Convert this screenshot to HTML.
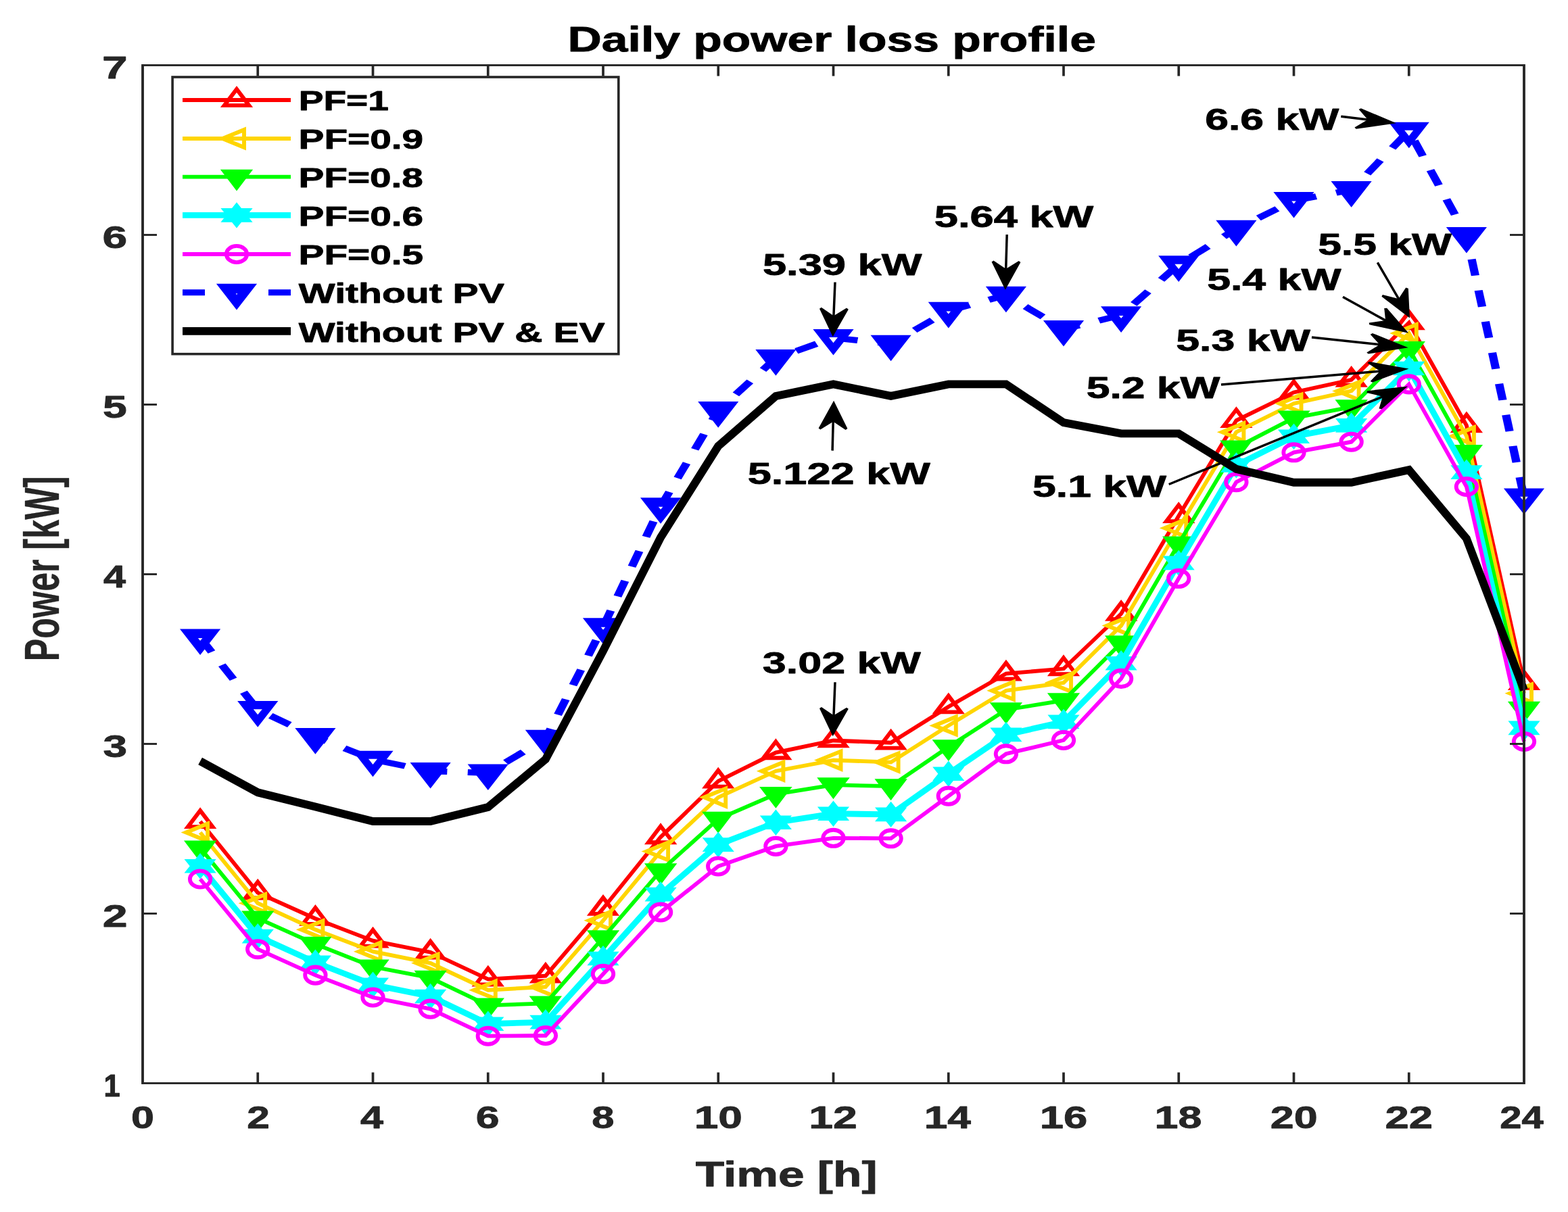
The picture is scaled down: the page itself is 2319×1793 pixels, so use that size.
<!DOCTYPE html>
<html lang="en"><head><meta charset="utf-8"><title>Daily power loss profile</title>
<style>html,body{margin:0;padding:0;background:#fff;}svg{display:block;}text{font-family:"Liberation Sans",Arial,Helvetica,sans-serif;font-weight:bold;stroke-linejoin:round;vector-effect:non-scaling-stroke;}</style>
</head><body>
<svg width="2319" height="1793" viewBox="0 0 2319 1793">
<rect x="0" y="0" width="2319" height="1793" fill="#ffffff"/>
<g id="s-red">
<polyline points="296.1,1215.2 381.2,1320.6 466.4,1359.0 551.5,1391.7 636.6,1408.7 721.8,1448.6 806.9,1443.6 892.0,1344.0 977.1,1238.3 1062.2,1155.7 1147.4,1113.3 1232.5,1095.5 1317.6,1098.7 1402.8,1045.5 1487.9,996.6 1573.0,989.3 1658.1,908.0 1743.2,763.2 1828.4,622.1 1913.5,580.4 1998.6,561.9 2083.8,477.5 2168.9,629.4 2254.0,1010.1" fill="none" stroke="#ff0000" stroke-width="5.8" stroke-linejoin="miter"/>
<polygon points="296.1,1199.1 314.4,1223.1 277.9,1223.1" fill="none" stroke="#ff0000" stroke-width="5.9"/>
<polygon points="381.2,1304.5 399.5,1328.5 363.0,1328.5" fill="none" stroke="#ff0000" stroke-width="5.9"/>
<polygon points="466.4,1342.9 484.6,1366.9 448.1,1366.9" fill="none" stroke="#ff0000" stroke-width="5.9"/>
<polygon points="551.5,1375.6 569.8,1399.6 533.2,1399.6" fill="none" stroke="#ff0000" stroke-width="5.9"/>
<polygon points="636.6,1392.6 654.9,1416.6 618.4,1416.6" fill="none" stroke="#ff0000" stroke-width="5.9"/>
<polygon points="721.8,1432.5 740.0,1456.5 703.5,1456.5" fill="none" stroke="#ff0000" stroke-width="5.9"/>
<polygon points="806.9,1427.5 825.1,1451.5 788.6,1451.5" fill="none" stroke="#ff0000" stroke-width="5.9"/>
<polygon points="892.0,1327.9 910.2,1351.9 873.8,1351.9" fill="none" stroke="#ff0000" stroke-width="5.9"/>
<polygon points="977.1,1222.2 995.4,1246.2 958.9,1246.2" fill="none" stroke="#ff0000" stroke-width="5.9"/>
<polygon points="1062.2,1139.6 1080.5,1163.6 1044.0,1163.6" fill="none" stroke="#ff0000" stroke-width="5.9"/>
<polygon points="1147.4,1097.2 1165.6,1121.2 1129.1,1121.2" fill="none" stroke="#ff0000" stroke-width="5.9"/>
<polygon points="1232.5,1079.4 1250.8,1103.4 1214.2,1103.4" fill="none" stroke="#ff0000" stroke-width="5.9"/>
<polygon points="1317.6,1082.6 1335.9,1106.6 1299.4,1106.6" fill="none" stroke="#ff0000" stroke-width="5.9"/>
<polygon points="1402.8,1029.4 1421.0,1053.4 1384.5,1053.4" fill="none" stroke="#ff0000" stroke-width="5.9"/>
<polygon points="1487.9,980.5 1506.1,1004.5 1469.6,1004.5" fill="none" stroke="#ff0000" stroke-width="5.9"/>
<polygon points="1573.0,973.2 1591.2,997.2 1554.8,997.2" fill="none" stroke="#ff0000" stroke-width="5.9"/>
<polygon points="1658.1,891.9 1676.4,915.9 1639.9,915.9" fill="none" stroke="#ff0000" stroke-width="5.9"/>
<polygon points="1743.2,747.1 1761.5,771.1 1725.0,771.1" fill="none" stroke="#ff0000" stroke-width="5.9"/>
<polygon points="1828.4,606.0 1846.6,630.0 1810.1,630.0" fill="none" stroke="#ff0000" stroke-width="5.9"/>
<polygon points="1913.5,564.3 1931.8,588.3 1895.2,588.3" fill="none" stroke="#ff0000" stroke-width="5.9"/>
<polygon points="1998.6,545.8 2016.9,569.8 1980.4,569.8" fill="none" stroke="#ff0000" stroke-width="5.9"/>
<polygon points="2083.8,461.4 2102.0,485.4 2065.5,485.4" fill="none" stroke="#ff0000" stroke-width="5.9"/>
<polygon points="2168.9,613.3 2187.1,637.3 2150.6,637.3" fill="none" stroke="#ff0000" stroke-width="5.9"/>
<polygon points="2254.0,994.0 2272.2,1018.0 2235.8,1018.0" fill="none" stroke="#ff0000" stroke-width="5.9"/>
</g>
<g id="s-yellow">
<polyline points="296.1,1231.5 381.2,1336.2 466.4,1375.3 551.5,1407.7 636.6,1424.8 721.8,1464.7 806.9,1459.9 892.0,1361.8 977.1,1259.4 1062.2,1179.6 1147.4,1140.7 1232.5,1124.6 1317.6,1127.6 1402.8,1073.4 1487.9,1021.7 1573.0,1010.1 1658.1,925.6 1743.2,781.2 1828.4,639.2 1913.5,597.0 1998.6,578.4 2083.8,493.1 2168.9,645.2 2254.0,1025.7" fill="none" stroke="#ffd500" stroke-width="5.8" stroke-linejoin="miter"/>
<polygon points="275.3,1231.5 307.1,1218.5 307.1,1244.5" fill="none" stroke="#ffd500" stroke-width="5.9"/>
<polygon points="360.4,1336.2 392.2,1323.2 392.2,1349.2" fill="none" stroke="#ffd500" stroke-width="5.9"/>
<polygon points="445.6,1375.3 477.4,1362.3 477.4,1388.3" fill="none" stroke="#ffd500" stroke-width="5.9"/>
<polygon points="530.7,1407.7 562.5,1394.7 562.5,1420.7" fill="none" stroke="#ffd500" stroke-width="5.9"/>
<polygon points="615.8,1424.8 647.6,1411.8 647.6,1437.8" fill="none" stroke="#ffd500" stroke-width="5.9"/>
<polygon points="701.0,1464.7 732.8,1451.7 732.8,1477.7" fill="none" stroke="#ffd500" stroke-width="5.9"/>
<polygon points="786.1,1459.9 817.9,1446.9 817.9,1472.9" fill="none" stroke="#ffd500" stroke-width="5.9"/>
<polygon points="871.2,1361.8 903.0,1348.8 903.0,1374.8" fill="none" stroke="#ffd500" stroke-width="5.9"/>
<polygon points="956.3,1259.4 988.1,1246.4 988.1,1272.4" fill="none" stroke="#ffd500" stroke-width="5.9"/>
<polygon points="1041.5,1179.6 1073.2,1166.6 1073.2,1192.6" fill="none" stroke="#ffd500" stroke-width="5.9"/>
<polygon points="1126.6,1140.7 1158.4,1127.7 1158.4,1153.7" fill="none" stroke="#ffd500" stroke-width="5.9"/>
<polygon points="1211.7,1124.6 1243.5,1111.6 1243.5,1137.6" fill="none" stroke="#ffd500" stroke-width="5.9"/>
<polygon points="1296.8,1127.6 1328.6,1114.6 1328.6,1140.6" fill="none" stroke="#ffd500" stroke-width="5.9"/>
<polygon points="1382.0,1073.4 1413.8,1060.4 1413.8,1086.4" fill="none" stroke="#ffd500" stroke-width="5.9"/>
<polygon points="1467.1,1021.7 1498.9,1008.7 1498.9,1034.7" fill="none" stroke="#ffd500" stroke-width="5.9"/>
<polygon points="1552.2,1010.1 1584.0,997.1 1584.0,1023.1" fill="none" stroke="#ffd500" stroke-width="5.9"/>
<polygon points="1637.3,925.6 1669.1,912.6 1669.1,938.6" fill="none" stroke="#ffd500" stroke-width="5.9"/>
<polygon points="1722.5,781.2 1754.2,768.2 1754.2,794.2" fill="none" stroke="#ffd500" stroke-width="5.9"/>
<polygon points="1807.6,639.2 1839.4,626.2 1839.4,652.2" fill="none" stroke="#ffd500" stroke-width="5.9"/>
<polygon points="1892.7,597.0 1924.5,584.0 1924.5,610.0" fill="none" stroke="#ffd500" stroke-width="5.9"/>
<polygon points="1977.8,578.4 2009.6,565.4 2009.6,591.4" fill="none" stroke="#ffd500" stroke-width="5.9"/>
<polygon points="2062.9,493.1 2094.8,480.1 2094.8,506.1" fill="none" stroke="#ffd500" stroke-width="5.9"/>
<polygon points="2148.1,645.2 2179.9,632.2 2179.9,658.2" fill="none" stroke="#ffd500" stroke-width="5.9"/>
<polygon points="2233.2,1025.7 2265.0,1012.7 2265.0,1038.7" fill="none" stroke="#ffd500" stroke-width="5.9"/>
</g>
<g id="s-green">
<polyline points="296.1,1254.4 381.2,1358.3 466.4,1396.7 551.5,1430.3 636.6,1446.6 721.8,1487.3 806.9,1484.3 892.0,1387.1 977.1,1288.2 1062.2,1211.7 1147.4,1174.8 1232.5,1161.2 1317.6,1163.2 1402.8,1105.0 1487.9,1050.0 1573.0,1036.2 1658.1,951.2 1743.2,804.3 1828.4,662.3 1913.5,618.3 1998.6,602.0 2083.8,515.9 2168.9,668.8 2254.0,1048.5" fill="none" stroke="#00ff00" stroke-width="5.8" stroke-linejoin="miter"/>
<polygon points="296.1,1270.5 314.4,1246.5 277.9,1246.5" fill="#00ff00" stroke="#00ff00" stroke-width="5.9"/>
<polygon points="381.2,1374.4 399.5,1350.4 363.0,1350.4" fill="#00ff00" stroke="#00ff00" stroke-width="5.9"/>
<polygon points="466.4,1412.8 484.6,1388.8 448.1,1388.8" fill="#00ff00" stroke="#00ff00" stroke-width="5.9"/>
<polygon points="551.5,1446.4 569.8,1422.4 533.2,1422.4" fill="#00ff00" stroke="#00ff00" stroke-width="5.9"/>
<polygon points="636.6,1462.7 654.9,1438.7 618.4,1438.7" fill="#00ff00" stroke="#00ff00" stroke-width="5.9"/>
<polygon points="721.8,1503.4 740.0,1479.4 703.5,1479.4" fill="#00ff00" stroke="#00ff00" stroke-width="5.9"/>
<polygon points="806.9,1500.4 825.1,1476.4 788.6,1476.4" fill="#00ff00" stroke="#00ff00" stroke-width="5.9"/>
<polygon points="892.0,1403.2 910.2,1379.2 873.8,1379.2" fill="#00ff00" stroke="#00ff00" stroke-width="5.9"/>
<polygon points="977.1,1304.3 995.4,1280.3 958.9,1280.3" fill="#00ff00" stroke="#00ff00" stroke-width="5.9"/>
<polygon points="1062.2,1227.8 1080.5,1203.8 1044.0,1203.8" fill="#00ff00" stroke="#00ff00" stroke-width="5.9"/>
<polygon points="1147.4,1190.9 1165.6,1166.9 1129.1,1166.9" fill="#00ff00" stroke="#00ff00" stroke-width="5.9"/>
<polygon points="1232.5,1177.3 1250.8,1153.3 1214.2,1153.3" fill="#00ff00" stroke="#00ff00" stroke-width="5.9"/>
<polygon points="1317.6,1179.3 1335.9,1155.3 1299.4,1155.3" fill="#00ff00" stroke="#00ff00" stroke-width="5.9"/>
<polygon points="1402.8,1121.1 1421.0,1097.1 1384.5,1097.1" fill="#00ff00" stroke="#00ff00" stroke-width="5.9"/>
<polygon points="1487.9,1066.1 1506.1,1042.1 1469.6,1042.1" fill="#00ff00" stroke="#00ff00" stroke-width="5.9"/>
<polygon points="1573.0,1052.3 1591.2,1028.3 1554.8,1028.3" fill="#00ff00" stroke="#00ff00" stroke-width="5.9"/>
<polygon points="1658.1,967.3 1676.4,943.3 1639.9,943.3" fill="#00ff00" stroke="#00ff00" stroke-width="5.9"/>
<polygon points="1743.2,820.4 1761.5,796.4 1725.0,796.4" fill="#00ff00" stroke="#00ff00" stroke-width="5.9"/>
<polygon points="1828.4,678.4 1846.6,654.4 1810.1,654.4" fill="#00ff00" stroke="#00ff00" stroke-width="5.9"/>
<polygon points="1913.5,634.4 1931.8,610.4 1895.2,610.4" fill="#00ff00" stroke="#00ff00" stroke-width="5.9"/>
<polygon points="1998.6,618.1 2016.9,594.1 1980.4,594.1" fill="#00ff00" stroke="#00ff00" stroke-width="5.9"/>
<polygon points="2083.8,532.0 2102.0,508.0 2065.5,508.0" fill="#00ff00" stroke="#00ff00" stroke-width="5.9"/>
<polygon points="2168.9,684.9 2187.1,660.9 2150.6,660.9" fill="#00ff00" stroke="#00ff00" stroke-width="5.9"/>
<polygon points="2254.0,1064.6 2272.2,1040.6 2235.8,1040.6" fill="#00ff00" stroke="#00ff00" stroke-width="5.9"/>
</g>
<g id="s-cyan">
<polyline points="296.1,1281.2 381.2,1385.1 466.4,1423.8 551.5,1456.7 636.6,1474.0 721.8,1514.7 806.9,1512.1 892.0,1418.0 977.1,1323.1 1062.2,1249.6 1147.4,1216.7 1232.5,1203.7 1317.6,1204.9 1402.8,1144.7 1487.9,1086.9 1573.0,1067.9 1658.1,981.3 1743.2,832.9 1828.4,688.4 1913.5,645.7 1998.6,629.4 2083.8,545.0 2168.9,698.6 2254.0,1076.9" fill="none" stroke="#00ffff" stroke-width="8.8" stroke-linejoin="miter"/>
<polygon points="296.1,1262.0 319.7,1291.5 272.5,1291.5" fill="#00ffff"/><polygon points="296.1,1300.4 319.7,1270.9 272.5,1270.9" fill="#00ffff"/>
<polygon points="381.2,1365.9 404.9,1395.4 357.6,1395.4" fill="#00ffff"/><polygon points="381.2,1404.3 404.9,1374.8 357.6,1374.8" fill="#00ffff"/>
<polygon points="466.4,1404.6 490.0,1434.1 442.8,1434.1" fill="#00ffff"/><polygon points="466.4,1443.0 490.0,1413.5 442.8,1413.5" fill="#00ffff"/>
<polygon points="551.5,1437.5 575.1,1467.0 527.9,1467.0" fill="#00ffff"/><polygon points="551.5,1475.9 575.1,1446.4 527.9,1446.4" fill="#00ffff"/>
<polygon points="636.6,1454.8 660.2,1484.3 613.0,1484.3" fill="#00ffff"/><polygon points="636.6,1493.2 660.2,1463.7 613.0,1463.7" fill="#00ffff"/>
<polygon points="721.8,1495.5 745.4,1525.0 698.1,1525.0" fill="#00ffff"/><polygon points="721.8,1533.9 745.4,1504.4 698.1,1504.4" fill="#00ffff"/>
<polygon points="806.9,1492.9 830.5,1522.4 783.3,1522.4" fill="#00ffff"/><polygon points="806.9,1531.3 830.5,1501.8 783.3,1501.8" fill="#00ffff"/>
<polygon points="892.0,1398.8 915.6,1428.3 868.4,1428.3" fill="#00ffff"/><polygon points="892.0,1437.2 915.6,1407.7 868.4,1407.7" fill="#00ffff"/>
<polygon points="977.1,1303.9 1000.7,1333.4 953.5,1333.4" fill="#00ffff"/><polygon points="977.1,1342.3 1000.7,1312.8 953.5,1312.8" fill="#00ffff"/>
<polygon points="1062.2,1230.4 1085.8,1259.9 1038.7,1259.9" fill="#00ffff"/><polygon points="1062.2,1268.8 1085.8,1239.3 1038.7,1239.3" fill="#00ffff"/>
<polygon points="1147.4,1197.5 1171.0,1227.0 1123.8,1227.0" fill="#00ffff"/><polygon points="1147.4,1235.9 1171.0,1206.4 1123.8,1206.4" fill="#00ffff"/>
<polygon points="1232.5,1184.5 1256.1,1214.0 1208.9,1214.0" fill="#00ffff"/><polygon points="1232.5,1222.9 1256.1,1193.4 1208.9,1193.4" fill="#00ffff"/>
<polygon points="1317.6,1185.7 1341.2,1215.2 1294.0,1215.2" fill="#00ffff"/><polygon points="1317.6,1224.1 1341.2,1194.6 1294.0,1194.6" fill="#00ffff"/>
<polygon points="1402.8,1125.5 1426.3,1155.0 1379.2,1155.0" fill="#00ffff"/><polygon points="1402.8,1163.9 1426.3,1134.4 1379.2,1134.4" fill="#00ffff"/>
<polygon points="1487.9,1067.7 1511.5,1097.2 1464.3,1097.2" fill="#00ffff"/><polygon points="1487.9,1106.1 1511.5,1076.6 1464.3,1076.6" fill="#00ffff"/>
<polygon points="1573.0,1048.7 1596.6,1078.2 1549.4,1078.2" fill="#00ffff"/><polygon points="1573.0,1087.1 1596.6,1057.6 1549.4,1057.6" fill="#00ffff"/>
<polygon points="1658.1,962.1 1681.7,991.6 1634.5,991.6" fill="#00ffff"/><polygon points="1658.1,1000.5 1681.7,971.0 1634.5,971.0" fill="#00ffff"/>
<polygon points="1743.2,813.7 1766.8,843.2 1719.7,843.2" fill="#00ffff"/><polygon points="1743.2,852.1 1766.8,822.6 1719.7,822.6" fill="#00ffff"/>
<polygon points="1828.4,669.2 1852.0,698.7 1804.8,698.7" fill="#00ffff"/><polygon points="1828.4,707.6 1852.0,678.1 1804.8,678.1" fill="#00ffff"/>
<polygon points="1913.5,626.5 1937.1,656.0 1889.9,656.0" fill="#00ffff"/><polygon points="1913.5,664.9 1937.1,635.4 1889.9,635.4" fill="#00ffff"/>
<polygon points="1998.6,610.2 2022.2,639.7 1975.0,639.7" fill="#00ffff"/><polygon points="1998.6,648.6 2022.2,619.1 1975.0,619.1" fill="#00ffff"/>
<polygon points="2083.8,525.8 2107.3,555.3 2060.2,555.3" fill="#00ffff"/><polygon points="2083.8,564.2 2107.3,534.7 2060.2,534.7" fill="#00ffff"/>
<polygon points="2168.9,679.4 2192.5,708.9 2145.3,708.9" fill="#00ffff"/><polygon points="2168.9,717.8 2192.5,688.3 2145.3,688.3" fill="#00ffff"/>
<polygon points="2254.0,1057.7 2277.6,1087.2 2230.4,1087.2" fill="#00ffff"/><polygon points="2254.0,1096.1 2277.6,1066.6 2230.4,1066.6" fill="#00ffff"/>
</g>
<g id="s-magenta">
<polyline points="296.1,1300.5 381.2,1404.2 466.4,1442.6 551.5,1475.5 636.6,1492.6 721.8,1532.7 806.9,1532.0 892.0,1440.9 977.1,1349.5 1062.2,1281.5 1147.4,1251.9 1232.5,1239.8 1317.6,1240.3 1402.8,1177.6 1487.9,1115.3 1573.0,1095.0 1658.1,1003.9 1743.2,855.8 1828.4,713.2 1913.5,669.3 1998.6,653.7 2083.8,568.4 2168.9,720.0 2254.0,1097.0" fill="none" stroke="#ff00ff" stroke-width="5.8" stroke-linejoin="miter"/>
<ellipse cx="296.1" cy="1300.5" rx="15.2" ry="12.1" fill="none" stroke="#ff00ff" stroke-width="5.9"/>
<ellipse cx="381.2" cy="1404.2" rx="15.2" ry="12.1" fill="none" stroke="#ff00ff" stroke-width="5.9"/>
<ellipse cx="466.4" cy="1442.6" rx="15.2" ry="12.1" fill="none" stroke="#ff00ff" stroke-width="5.9"/>
<ellipse cx="551.5" cy="1475.5" rx="15.2" ry="12.1" fill="none" stroke="#ff00ff" stroke-width="5.9"/>
<ellipse cx="636.6" cy="1492.6" rx="15.2" ry="12.1" fill="none" stroke="#ff00ff" stroke-width="5.9"/>
<ellipse cx="721.8" cy="1532.7" rx="15.2" ry="12.1" fill="none" stroke="#ff00ff" stroke-width="5.9"/>
<ellipse cx="806.9" cy="1532.0" rx="15.2" ry="12.1" fill="none" stroke="#ff00ff" stroke-width="5.9"/>
<ellipse cx="892.0" cy="1440.9" rx="15.2" ry="12.1" fill="none" stroke="#ff00ff" stroke-width="5.9"/>
<ellipse cx="977.1" cy="1349.5" rx="15.2" ry="12.1" fill="none" stroke="#ff00ff" stroke-width="5.9"/>
<ellipse cx="1062.2" cy="1281.5" rx="15.2" ry="12.1" fill="none" stroke="#ff00ff" stroke-width="5.9"/>
<ellipse cx="1147.4" cy="1251.9" rx="15.2" ry="12.1" fill="none" stroke="#ff00ff" stroke-width="5.9"/>
<ellipse cx="1232.5" cy="1239.8" rx="15.2" ry="12.1" fill="none" stroke="#ff00ff" stroke-width="5.9"/>
<ellipse cx="1317.6" cy="1240.3" rx="15.2" ry="12.1" fill="none" stroke="#ff00ff" stroke-width="5.9"/>
<ellipse cx="1402.8" cy="1177.6" rx="15.2" ry="12.1" fill="none" stroke="#ff00ff" stroke-width="5.9"/>
<ellipse cx="1487.9" cy="1115.3" rx="15.2" ry="12.1" fill="none" stroke="#ff00ff" stroke-width="5.9"/>
<ellipse cx="1573.0" cy="1095.0" rx="15.2" ry="12.1" fill="none" stroke="#ff00ff" stroke-width="5.9"/>
<ellipse cx="1658.1" cy="1003.9" rx="15.2" ry="12.1" fill="none" stroke="#ff00ff" stroke-width="5.9"/>
<ellipse cx="1743.2" cy="855.8" rx="15.2" ry="12.1" fill="none" stroke="#ff00ff" stroke-width="5.9"/>
<ellipse cx="1828.4" cy="713.2" rx="15.2" ry="12.1" fill="none" stroke="#ff00ff" stroke-width="5.9"/>
<ellipse cx="1913.5" cy="669.3" rx="15.2" ry="12.1" fill="none" stroke="#ff00ff" stroke-width="5.9"/>
<ellipse cx="1998.6" cy="653.7" rx="15.2" ry="12.1" fill="none" stroke="#ff00ff" stroke-width="5.9"/>
<ellipse cx="2083.8" cy="568.4" rx="15.2" ry="12.1" fill="none" stroke="#ff00ff" stroke-width="5.9"/>
<ellipse cx="2168.9" cy="720.0" rx="15.2" ry="12.1" fill="none" stroke="#ff00ff" stroke-width="5.9"/>
<ellipse cx="2254.0" cy="1097.0" rx="15.2" ry="12.1" fill="none" stroke="#ff00ff" stroke-width="5.9"/>
</g>
<g id="s-blue">
<path d="M290.8 945.6 L307.6 966.7 L318.3 962.2 L301.4 941.1Z M323.0 985.9 L339.8 1007.0 L350.4 1002.5 L333.6 981.4Z M355.1 1026.2 L371.9 1047.3 L382.6 1042.8 L365.7 1021.7Z M396.9 1062.7 L425.0 1075.9 L431.6 1068.3 L403.5 1055.1Z M450.6 1087.9 L463.1 1093.7 L469.7 1086.2 L457.2 1080.3Z M463.5 1093.9 L479.8 1100.4 L485.6 1092.4 L469.3 1086.0Z M506.5 1110.9 L535.9 1122.5 L541.7 1114.6 L512.4 1103.0Z M565.3 1131.1 L597.4 1137.6 L600.7 1128.9 L568.6 1122.4Z M626.7 1143.6 L635.0 1145.2 L638.3 1136.6 L630.0 1134.9Z M636.4 1145.4 L661.1 1146.1 L661.6 1137.1 L636.9 1136.4Z M691.5 1147.0 L721.5 1147.9 L722.0 1138.9 L692.0 1138.0Z M725.6 1146.9 L728.2 1145.4 L720.5 1138.4 L717.9 1139.9Z M751.8 1131.3 L777.7 1115.9 L769.9 1108.9 L744.1 1124.3Z M801.3 1101.8 L810.8 1096.2 L803.0 1089.2 L793.5 1094.9Z M812.6 1094.3 L820.1 1079.8 L808.6 1076.6 L801.1 1091.1Z M830.8 1059.0 L842.5 1036.1 L831.0 1033.0 L819.3 1055.8Z M853.2 1015.3 L865.0 992.5 L853.5 989.3 L841.7 1012.1Z M875.7 971.6 L887.4 948.8 L875.9 945.6 L864.2 968.5Z M898.1 927.8 L909.2 904.8 L897.5 901.8 L886.5 924.9Z M919.2 883.8 L930.2 860.8 L918.6 857.8 L907.6 880.8Z M940.3 839.8 L951.3 816.7 L939.7 813.8 L928.7 836.8Z M961.3 795.7 L972.4 772.7 L960.7 769.7 L949.7 792.7Z M982.4 751.7 L982.9 750.6 L971.3 747.6 L970.8 748.7Z M982.8 750.9 L995.5 729.6 L984.2 726.0 L971.5 747.3Z M1007.7 709.2 L1021.1 686.9 L1009.9 683.3 L996.5 705.6Z M1033.3 666.5 L1046.7 644.1 L1035.5 640.5 L1022.1 662.9Z M1058.9 623.8 L1067.9 608.8 L1056.6 605.2 L1047.7 620.1Z M1067.0 609.9 L1074.0 603.6 L1064.4 597.9 L1057.5 604.2Z M1093.1 586.2 L1114.1 567.3 L1104.5 561.6 L1083.6 580.6Z M1133.2 549.9 L1152.2 532.8 L1142.6 527.1 L1123.7 544.3Z M1150.1 534.0 L1153.0 533.0 L1147.6 524.9 L1144.7 525.9Z M1180.4 523.3 L1210.4 512.7 L1205.0 504.6 L1175.0 515.2Z M1234.5 504.6 L1267.5 508.0 L1269.2 499.1 L1236.2 495.7Z M1297.7 511.1 L1316.8 513.1 L1318.5 504.2 L1299.4 502.2Z M1321.4 512.2 L1332.5 505.8 L1324.9 498.8 L1313.8 505.1Z M1356.4 492.1 L1382.6 477.0 L1375.0 469.9 L1348.8 485.0Z M1406.5 463.2 L1406.6 463.2 L1398.9 456.2 L1398.9 456.2Z M1404.9 463.9 L1436.2 455.4 L1431.9 447.0 L1400.6 455.5Z M1464.7 447.7 L1490.0 440.8 L1485.7 432.4 L1460.4 439.3Z M1484.0 440.1 L1489.0 443.0 L1496.7 436.0 L1491.7 433.1Z M1512.6 457.0 L1538.6 472.3 L1546.3 465.3 L1520.4 450.0Z M1562.3 486.3 L1569.1 490.3 L1576.9 483.3 L1570.0 479.3Z M1574.9 491.1 L1598.3 485.4 L1594.4 476.9 L1571.1 482.5Z M1627.2 478.5 L1658.8 470.8 L1655.0 462.2 L1623.3 469.9Z M1681.5 452.7 L1702.8 433.9 L1693.3 428.2 L1672.0 447.0Z M1722.2 416.8 L1743.5 398.0 L1734.0 392.3 L1712.7 411.0Z M1765.1 383.6 L1790.6 367.9 L1782.7 361.0 L1757.2 376.7Z M1813.9 353.5 L1832.3 342.2 L1824.4 335.3 L1806.0 346.6Z M1831.8 342.4 L1839.5 338.7 L1832.6 331.2 L1824.9 335.0Z M1864.7 326.3 L1892.4 312.6 L1885.5 305.2 L1857.8 318.8Z M1915.8 301.0 L1948.1 295.0 L1945.1 286.3 L1912.8 292.3Z M1977.6 289.5 L2000.1 285.3 L1997.1 276.6 L1974.6 280.8Z M2003.6 283.6 L2009.5 277.6 L1999.5 272.3 L1993.6 278.4Z M2027.2 259.4 L2046.5 239.6 L2036.5 234.3 L2017.2 254.2Z M2064.2 221.4 L2083.6 201.6 L2073.6 196.3 L2054.2 216.2Z M2086.0 209.9 L2098.5 232.5 L2109.9 229.2 L2097.5 206.5Z M2109.8 253.2 L2122.2 275.8 L2133.7 272.5 L2121.2 249.9Z M2133.6 296.5 L2146.0 319.1 L2157.4 315.8 L2145.0 293.2Z M2157.3 339.8 L2163.2 350.4 L2174.6 347.1 L2168.8 336.5Z M2162.8 349.5 L2165.6 362.3 L2177.8 360.8 L2174.9 348.0Z M2170.5 384.2 L2175.8 408.3 L2187.9 406.9 L2182.6 382.8Z M2180.6 430.3 L2185.9 454.4 L2198.1 453.0 L2192.7 428.9Z M2190.7 476.4 L2196.1 500.5 L2208.2 499.0 L2202.9 474.9Z M2200.9 522.4 L2206.2 546.5 L2218.3 545.1 L2213.0 521.0Z M2211.0 568.5 L2216.3 592.6 L2228.5 591.2 L2223.2 567.1Z M2221.2 614.6 L2226.5 638.7 L2238.6 637.2 L2233.3 613.1Z M2231.3 660.6 L2236.6 684.7 L2248.8 683.3 L2243.5 659.2Z M2241.5 706.7 L2246.8 730.8 L2258.9 729.4 L2253.6 705.3Z" fill="#0000ff"/>
<polygon points="296.1,969.1 326.2,930.5 266.0,930.5" fill="#0000ff"/><polygon points="292.9,944.1 299.4,944.1 296.1,948.1" fill="#fff"/>
<polygon points="381.2,1075.7 411.4,1037.1 351.1,1037.1" fill="#0000ff"/><polygon points="374.8,1049.2 387.8,1049.2 381.2,1057.3" fill="#fff"/>
<polygon points="466.4,1115.7 496.5,1077.1 436.3,1077.1" fill="#0000ff"/>
<polygon points="551.5,1149.3 581.6,1110.7 521.4,1110.7" fill="#0000ff"/><polygon points="545.0,1122.8 558.0,1122.8 551.5,1130.9" fill="#fff"/>
<polygon points="636.6,1166.6 666.7,1128.0 606.5,1128.0" fill="#0000ff"/>
<polygon points="721.8,1169.1 751.9,1130.5 691.6,1130.5" fill="#0000ff"/>
<polygon points="806.9,1118.4 837.0,1079.8 776.8,1079.8" fill="#0000ff"/>
<polygon points="892.0,952.8 922.1,914.2 861.9,914.2" fill="#0000ff"/><polygon points="888.8,927.8 895.2,927.8 892.0,931.8" fill="#fff"/>
<polygon points="977.1,774.8 1007.2,736.2 947.0,736.2" fill="#0000ff"/><polygon points="973.9,749.8 980.4,749.8 977.1,753.8" fill="#fff"/>
<polygon points="1062.2,632.7 1092.3,594.1 1032.2,594.1" fill="#0000ff"/>
<polygon points="1147.4,555.7 1177.5,517.1 1117.3,517.1" fill="#0000ff"/>
<polygon points="1232.5,525.6 1262.6,487.0 1202.4,487.0" fill="#0000ff"/><polygon points="1226.0,499.1 1239.0,499.1 1232.5,507.2" fill="#fff"/>
<polygon points="1317.6,534.3 1347.7,495.7 1287.5,495.7" fill="#0000ff"/>
<polygon points="1402.8,485.4 1432.8,446.8 1372.7,446.8" fill="#0000ff"/><polygon points="1399.5,460.4 1406.0,460.4 1402.8,464.4" fill="#fff"/>
<polygon points="1487.9,462.3 1518.0,423.7 1457.8,423.7" fill="#0000ff"/>
<polygon points="1573.0,512.5 1603.1,473.9 1542.9,473.9" fill="#0000ff"/>
<polygon points="1658.1,491.9 1688.2,453.3 1628.0,453.3" fill="#0000ff"/><polygon points="1654.9,466.9 1661.4,466.9 1658.1,471.0" fill="#fff"/>
<polygon points="1743.2,416.9 1773.3,378.3 1713.2,378.3" fill="#0000ff"/><polygon points="1737.4,390.7 1749.1,390.7 1743.2,398.0" fill="#fff"/>
<polygon points="1828.4,364.4 1858.5,325.8 1798.3,325.8" fill="#0000ff"/>
<polygon points="1913.5,322.5 1943.6,283.9 1883.4,283.9" fill="#0000ff"/><polygon points="1910.2,297.5 1916.8,297.5 1913.5,301.5" fill="#fff"/>
<polygon points="1998.6,306.7 2028.7,268.1 1968.5,268.1" fill="#0000ff"/>
<polygon points="2083.8,219.3 2113.8,180.7 2053.7,180.7" fill="#0000ff"/><polygon points="2077.2,192.8 2090.2,192.8 2083.8,200.9" fill="#fff"/>
<polygon points="2168.9,374.5 2199.0,335.9 2138.8,335.9" fill="#0000ff"/>
<polygon points="2254.0,761.0 2284.1,722.4 2223.9,722.4" fill="#0000ff"/><polygon points="2248.2,734.8 2259.8,734.8 2254.0,742.1" fill="#fff"/>
</g>
<g id="s-black">
<polyline points="296.1,1126.1 381.2,1172.3 466.4,1193.6 551.5,1215.0 636.6,1215.0 721.8,1194.1 806.9,1123.3 892.0,963.0 977.1,795.0 1062.2,660.0 1147.4,585.9 1232.5,568.4 1317.6,585.9 1402.8,568.4 1487.9,568.4 1573.0,625.1 1658.1,641.4 1743.2,641.4 1828.4,693.9 1913.5,713.7 1998.6,713.7 2083.8,695.1 2168.9,796.8 2254.0,1020.9" fill="none" stroke="#000000" stroke-width="11.9" stroke-linejoin="miter"/>
</g>
<g id="axes" fill="#262626">
<rect x="209.07" y="95.05" width="3.85" height="1508.90"/>
<rect x="2252.07" y="95.05" width="3.85" height="1508.90"/>
<rect x="211.00" y="95.05" width="2043.00" height="2.90"/>
<rect x="211.00" y="1601.05" width="2043.00" height="2.90"/>
<rect x="379.40" y="1586.50" width="3.70" height="16.00"/>
<rect x="379.40" y="96.50" width="3.70" height="16.00"/>
<rect x="549.65" y="1586.50" width="3.70" height="16.00"/>
<rect x="549.65" y="96.50" width="3.70" height="16.00"/>
<rect x="719.90" y="1586.50" width="3.70" height="16.00"/>
<rect x="719.90" y="96.50" width="3.70" height="16.00"/>
<rect x="890.15" y="1586.50" width="3.70" height="16.00"/>
<rect x="890.15" y="96.50" width="3.70" height="16.00"/>
<rect x="1060.40" y="1586.50" width="3.70" height="16.00"/>
<rect x="1060.40" y="96.50" width="3.70" height="16.00"/>
<rect x="1230.65" y="1586.50" width="3.70" height="16.00"/>
<rect x="1230.65" y="96.50" width="3.70" height="16.00"/>
<rect x="1400.90" y="1586.50" width="3.70" height="16.00"/>
<rect x="1400.90" y="96.50" width="3.70" height="16.00"/>
<rect x="1571.15" y="1586.50" width="3.70" height="16.00"/>
<rect x="1571.15" y="96.50" width="3.70" height="16.00"/>
<rect x="1741.40" y="1586.50" width="3.70" height="16.00"/>
<rect x="1741.40" y="96.50" width="3.70" height="16.00"/>
<rect x="1911.65" y="1586.50" width="3.70" height="16.00"/>
<rect x="1911.65" y="96.50" width="3.70" height="16.00"/>
<rect x="2081.90" y="1586.50" width="3.70" height="16.00"/>
<rect x="2081.90" y="96.50" width="3.70" height="16.00"/>
<rect x="211.00" y="1350.05" width="21.00" height="2.90"/>
<rect x="2233.00" y="1350.05" width="21.00" height="2.90"/>
<rect x="211.00" y="1099.05" width="21.00" height="2.90"/>
<rect x="2233.00" y="1099.05" width="21.00" height="2.90"/>
<rect x="211.00" y="848.05" width="21.00" height="2.90"/>
<rect x="2233.00" y="848.05" width="21.00" height="2.90"/>
<rect x="211.00" y="597.05" width="21.00" height="2.90"/>
<rect x="2233.00" y="597.05" width="21.00" height="2.90"/>
<rect x="211.00" y="346.05" width="21.00" height="2.90"/>
<rect x="2233.00" y="346.05" width="21.00" height="2.90"/>
</g>
<g id="legend">
<rect x="255.10" y="114.00" width="659.70" height="409.70" fill="#ffffff" stroke="#262626" stroke-width="3.6"/>
<line x1="270" y1="148.00" x2="430" y2="148.00" stroke="#ff0000" stroke-width="5.8"/>
<polygon points="350.0,131.9 368.2,155.9 331.8,155.9" fill="none" stroke="#ff0000" stroke-width="5.9"/>
<line x1="270" y1="205.00" x2="430" y2="205.00" stroke="#ffd500" stroke-width="5.8"/>
<polygon points="329.2,205.0 361.0,192.0 361.0,218.0" fill="none" stroke="#ffd500" stroke-width="5.9"/>
<line x1="270" y1="261.60" x2="430" y2="261.60" stroke="#00ff00" stroke-width="5.8"/>
<polygon points="350.0,277.7 368.2,253.7 331.8,253.7" fill="#00ff00" stroke="#00ff00" stroke-width="5.9"/>
<line x1="270" y1="318.40" x2="430" y2="318.40" stroke="#00ffff" stroke-width="8.8"/>
<polygon points="350.0,299.2 373.6,328.7 326.4,328.7" fill="#00ffff"/><polygon points="350.0,337.6 373.6,308.1 326.4,308.1" fill="#00ffff"/>
<line x1="270" y1="376.00" x2="430" y2="376.00" stroke="#ff00ff" stroke-width="5.8"/>
<ellipse cx="350.0" cy="376.0" rx="15.2" ry="12.1" fill="none" stroke="#ff00ff" stroke-width="5.9"/>
<rect x="270" y="428.20" width="33" height="9" fill="#0000ff"/>
<rect x="397" y="428.20" width="33" height="9" fill="#0000ff"/>
<polygon points="350.0,458.4 380.1,419.8 319.9,419.8" fill="#0000ff"/><polygon points="348.6,434.2 351.4,434.2 350.0,436.0" fill="#fff"/>
<line x1="270" y1="489.90" x2="430" y2="489.90" stroke="#000000" stroke-width="11.9"/>
</g>
<g id="arrows">
<line x1="1489.2" y1="347.0" x2="1487.6" y2="400.7" stroke="#000" stroke-width="3.5"/><polygon points="1486.8,428.7 1466.6,387.4 1469.4,385.4 1487.7,397.7 1506.7,386.0 1509.4,388.0" fill="#000"/>
<line x1="1235.0" y1="417.5" x2="1232.8" y2="470.2" stroke="#000" stroke-width="3.5"/><polygon points="1231.7,498.2 1212.0,456.8 1214.8,454.8 1233.0,467.2 1252.1,455.6 1254.8,457.7" fill="#000"/>
<line x1="1231.1" y1="666.6" x2="1232.3" y2="620.8" stroke="#000" stroke-width="3.5"/><polygon points="1233.1,592.8 1253.4,634.1 1250.6,636.1 1232.3,623.8 1213.3,635.5 1210.6,633.5" fill="#000"/>
<line x1="1235.0" y1="1009.3" x2="1232.9" y2="1061.3" stroke="#000" stroke-width="3.5"/><polygon points="1231.7,1089.3 1212.0,1047.9 1214.9,1045.9 1233.0,1058.3 1252.1,1046.7 1254.8,1048.8" fill="#000"/>
<line x1="1983.3" y1="172.3" x2="2026.9" y2="177.6" stroke="#000" stroke-width="3.5"/><polygon points="2065.0,182.3 2005.6,190.8 2003.4,188.4 2022.8,177.1 2009.6,161.8 2012.8,160.2" fill="#000"/>
<line x1="2037.3" y1="388.3" x2="2070.0" y2="444.7" stroke="#000" stroke-width="3.5"/><polygon points="2085.0,470.5 2043.4,438.7 2044.8,436.1 2068.4,441.9 2079.2,425.6 2082.8,426.7" fill="#000"/>
<line x1="1986.0" y1="439.3" x2="2052.4" y2="475.9" stroke="#000" stroke-width="3.5"/><polygon points="2083.2,492.8 2025.2,480.3 2024.7,477.5 2049.1,474.0 2047.2,456.0 2051.1,455.7" fill="#000"/>
<line x1="1940.0" y1="499.0" x2="2044.5" y2="510.2" stroke="#000" stroke-width="3.5"/><polygon points="2082.7,514.3 2023.6,523.6 2021.3,521.4 2040.4,509.8 2026.7,494.7 2029.9,493.0" fill="#000"/>
<line x1="1806.0" y1="569.0" x2="2045.1" y2="548.8" stroke="#000" stroke-width="3.5"/><polygon points="2083.5,545.5 2029.8,565.7 2026.7,563.9 2041.0,549.1 2022.4,537.1 2024.8,534.9" fill="#000"/>
<line x1="1728.7" y1="716.5" x2="2048.4" y2="585.3" stroke="#000" stroke-width="3.5"/><polygon points="2082.0,571.5 2043.3,605.2 2039.5,604.4 2044.8,586.8 2021.2,580.9 2022.2,578.2" fill="#000"/>
</g>
<g id="labels">
<text transform="translate(839.60 75.70) scale(1.3594 1)" font-size="51.21" fill="#000" stroke="#000" stroke-width="1.00">Daily power loss profile</text>
<text transform="translate(194.06 1669.30) scale(1.3069 1)" font-size="46.71" fill="#262626" stroke="#262626" stroke-width="1.00">0</text>
<text transform="translate(365.19 1669.30) scale(1.2933 1)" font-size="46.71" fill="#262626" stroke="#262626" stroke-width="1.00">2</text>
<text transform="translate(533.08 1669.30) scale(1.3084 1)" font-size="46.71" fill="#262626" stroke="#262626" stroke-width="1.00">4</text>
<text transform="translate(703.75 1669.30) scale(1.3399 1)" font-size="46.71" fill="#262626" stroke="#262626" stroke-width="1.00">6</text>
<text transform="translate(875.26 1669.30) scale(1.2779 1)" font-size="46.71" fill="#262626" stroke="#262626" stroke-width="1.00">8</text>
<text transform="translate(1026.69 1669.30) scale(1.3726 1)" font-size="46.71" fill="#262626" stroke="#262626" stroke-width="1.00">10</text>
<text transform="translate(1196.27 1669.30) scale(1.3790 1)" font-size="46.71" fill="#262626" stroke="#262626" stroke-width="1.00">12</text>
<text transform="translate(1366.71 1669.30) scale(1.3327 1)" font-size="46.71" fill="#262626" stroke="#262626" stroke-width="1.00">14</text>
<text transform="translate(1537.64 1669.30) scale(1.3573 1)" font-size="46.71" fill="#262626" stroke="#262626" stroke-width="1.00">16</text>
<text transform="translate(1707.57 1669.30) scale(1.3465 1)" font-size="46.71" fill="#262626" stroke="#262626" stroke-width="1.00">18</text>
<text transform="translate(1878.80 1669.30) scale(1.3444 1)" font-size="46.71" fill="#262626" stroke="#262626" stroke-width="1.00">20</text>
<text transform="translate(2048.38 1669.30) scale(1.3589 1)" font-size="46.71" fill="#262626" stroke="#262626" stroke-width="1.00">22</text>
<text transform="translate(2218.17 1669.30) scale(1.2404 1)" font-size="46.71" fill="#262626" stroke="#262626" stroke-width="1.00">24</text>
<text transform="translate(153.58 1622.00) scale(0.9356 1)" font-size="46.43" fill="#262626" stroke="#262626" stroke-width="1.00">1</text>
<text transform="translate(151.68 1371.00) scale(1.4269 1)" font-size="46.43" fill="#262626" stroke="#262626" stroke-width="1.00">2</text>
<text transform="translate(152.56 1120.00) scale(1.3767 1)" font-size="46.43" fill="#262626" stroke="#262626" stroke-width="1.00">3</text>
<text transform="translate(153.11 869.00) scale(1.2802 1)" font-size="46.43" fill="#262626" stroke="#262626" stroke-width="1.00">4</text>
<text transform="translate(151.91 618.00) scale(1.3837 1)" font-size="46.43" fill="#262626" stroke="#262626" stroke-width="1.00">5</text>
<text transform="translate(151.53 367.00) scale(1.4195 1)" font-size="46.43" fill="#262626" stroke="#262626" stroke-width="1.00">6</text>
<text transform="translate(151.12 116.00) scale(1.4573 1)" font-size="46.43" fill="#262626" stroke="#262626" stroke-width="1.00">7</text>
<text transform="translate(1028.73 1755.20) scale(1.3657 1)" font-size="50.86" fill="#262626" stroke="#262626" stroke-width="1.00">Time [h]</text>
<text transform="translate(86.95 978.14) rotate(-90) scale(0.9665 1.3780)" font-size="52.00" fill="#262626" stroke="#262626" stroke-width="0.30">Power [kW]</text>
<text transform="translate(441.68 163.30) scale(1.3350 1)" font-size="41.29" fill="#000" stroke="#000" stroke-width="1.00">PF=1</text>
<text transform="translate(441.57 220.10) scale(1.3752 1)" font-size="41.29" fill="#000" stroke="#000" stroke-width="1.00">PF=0.9</text>
<text transform="translate(441.57 277.30) scale(1.3730 1)" font-size="41.29" fill="#000" stroke="#000" stroke-width="1.00">PF=0.8</text>
<text transform="translate(441.57 334.20) scale(1.3752 1)" font-size="41.29" fill="#000" stroke="#000" stroke-width="1.00">PF=0.6</text>
<text transform="translate(441.57 391.20) scale(1.3750 1)" font-size="41.29" fill="#000" stroke="#000" stroke-width="1.00">PF=0.5</text>
<text transform="translate(441.76 448.20) scale(1.3831 1)" font-size="41.29" fill="#000" stroke="#000" stroke-width="1.00">Without PV</text>
<text transform="translate(441.76 505.70) scale(1.3824 1)" font-size="41.29" fill="#000" stroke="#000" stroke-width="1.00">Without PV &amp; EV</text>
<text transform="translate(1782.16 192.20) scale(1.3916 1)" font-size="44.93" fill="#000" stroke="#000" stroke-width="1.00">6.6 kW</text>
<text transform="translate(1949.17 376.80) scale(1.3887 1)" font-size="44.93" fill="#000" stroke="#000" stroke-width="1.00">5.5 kW</text>
<text transform="translate(1785.16 428.80) scale(1.3936 1)" font-size="44.93" fill="#000" stroke="#000" stroke-width="1.00">5.4 kW</text>
<text transform="translate(1739.16 518.50) scale(1.3958 1)" font-size="44.93" fill="#000" stroke="#000" stroke-width="1.00">5.3 kW</text>
<text transform="translate(1606.77 588.50) scale(1.3894 1)" font-size="44.93" fill="#000" stroke="#000" stroke-width="1.00">5.2 kW</text>
<text transform="translate(1527.07 734.80) scale(1.3908 1)" font-size="44.93" fill="#000" stroke="#000" stroke-width="1.00">5.1 kW</text>
<text transform="translate(1381.74 336.30) scale(1.4078 1)" font-size="44.93" fill="#000" stroke="#000" stroke-width="1.00">5.64 kW</text>
<text transform="translate(1127.94 407.30) scale(1.4078 1)" font-size="44.93" fill="#000" stroke="#000" stroke-width="1.00">5.39 kW</text>
<text transform="translate(1105.75 716.20) scale(1.4049 1)" font-size="44.93" fill="#000" stroke="#000" stroke-width="1.00">5.122 kW</text>
<text transform="translate(1127.79 996.40) scale(1.3992 1)" font-size="44.93" fill="#000" stroke="#000" stroke-width="1.00">3.02 kW</text>
</g>
</svg>
</body></html>
